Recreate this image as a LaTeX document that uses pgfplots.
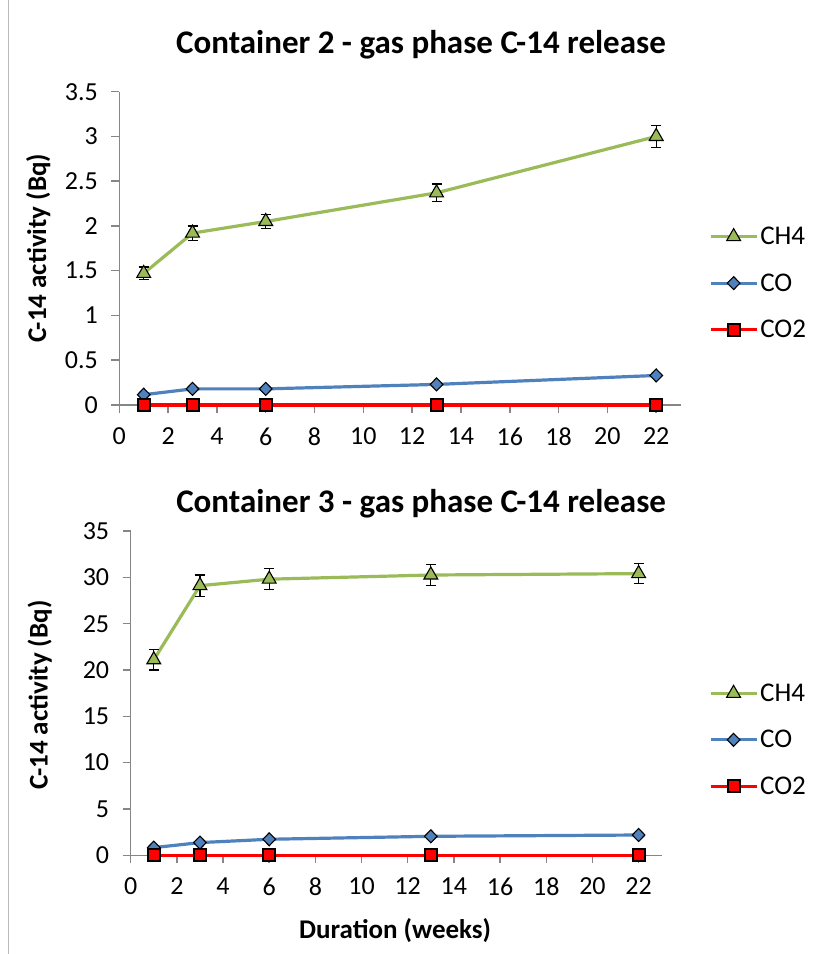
\documentclass[border=0pt]{standalone}
\usepackage{fontspec}
\setmainfont{Carlito}
\usepackage{pgfplots}
\usepackage{pgfplotstable}
\pgfplotsset{compat=1.18}
\definecolor{ch4green}{RGB}{155,187,89}
\definecolor{coblue}{RGB}{79,129,189}
\definecolor{axgray}{RGB}{134,134,134}

% container 2
\pgfplotstableread{
x  y     e
1  1.47  0.07
3  1.92  0.08
6  2.05  0.08
13 2.37  0.10
22 3.00  0.12
}\chtwo
\pgfplotstableread{
x  y
1  0.115
3  0.18
6  0.18
13 0.23
22 0.33
}\cotwo
\pgfplotstableread{
x  y
1  0
3  0
6  0
13 0
22 0
}\cotwotwo
% container 3
\pgfplotstableread{
x  y      e
1  21.1   1.10
3  29.1   1.15
6  29.8   1.15
13 30.25  1.15
22 30.4   1.10
}\chthree
\pgfplotstableread{
x  y
1  0.83
3  1.37
6  1.73
13 2.05
22 2.19
}\cothree
\pgfplotstableread{
x  y
1  0
3  0
6  0
13 0
22 0
}\cotwothree

\pgfplotsset{
    c14/.style={
        scale only axis,
        clip=false,
        xmin=0, xmax=23,
        xtick={0,2,...,22},
        axis lines*=left,
        axis line style={draw=axgray, line width=1.5pt},
        tick style={draw=axgray, line width=1.5pt},
        tick align=outside,
        major tick length=8pt,
        /pgf/number format/assume math mode=true,
        ticklabel style={font=\fontsize{26}{30}\selectfont},
        xticklabel style={yshift=-11pt},
        yticklabel style={xshift=-10pt},
        title style={font=\bfseries\fontsize{33}{38}\selectfont, anchor=center},
        label style={font=\bfseries\fontsize{27}{32}\selectfont},
        legend style={draw=none, fill=none, anchor=west,
            font=\fontsize{27}{32}\selectfont, row sep=23.5pt,
            /tikz/every even column/.append style={column sep=2pt}},
        legend cell align=left,
        legend image code/.code={
            \draw[mark repeat=2, mark phase=2, ##1] plot coordinates {(0pt,0pt) (23pt,0pt) (46pt,0pt)};
        },
    },
    ch4/.style={color=ch4green, line width=3.2pt,
        mark=triangle*, mark size=8pt,
        mark options={fill=ch4green, draw=black, line width=1.1pt}},
    co/.style={color=coblue, line width=3.2pt,
        mark=diamond*, mark size=6.5pt,
        mark options={fill=coblue, draw=black, line width=1.1pt, xscale=1.3}},
    cotwo/.style={color=red, line width=3.2pt,
        mark=square*, mark size=6pt,
        mark options={fill=red, draw=black, line width=2pt}},
    ebar/.style={error bars/.cd, y dir=both, y explicit,
        error bar style={black, line width=1.3pt},
        error mark options={rotate=90, black, mark size=5pt, line width=1.3pt}},
}

\begin{document}
\begin{tikzpicture}
\path[use as bounding box] (0pt,0pt) rectangle (826pt,954pt);
\draw[gray!55, line width=0.8pt] (8pt,0pt) -- (8pt,954pt);

\begin{axis}[c14,
    at={(119.3pt,549pt)}, anchor=south west,
    width=561.3pt, height=313.3pt,
    ymin=0, ymax=3.5, ytick={0,0.5,...,3.5},
    title={Container 2 - gas phase C-14 release},
    title style={at={(0.5375,1)}, yshift=41pt},
    ylabel={C-14 activity (Bq)},
    ylabel style={at={(-0.1443,0.5)}, anchor=center},
    legend style={at={(1.045,0.389)}},
]
\addplot[ch4, ebar] table[x=x, y=y, y error=e] {\chtwo};
\addplot[co] table[x=x, y=y] {\cotwo};
\addplot[cotwo] table[x=x, y=y] {\cotwotwo};
\legend{CH4, CO, CO2}
\end{axis}

\begin{axis}[c14,
    at={(130.7pt,98.7pt)}, anchor=south west,
    width=531pt, height=324.3pt,
    ymin=0, ymax=35, ytick={0,5,...,35},
    title={Container 3 - gas phase C-14 release},
    title style={at={(0.547,1)}, yshift=21pt},
    ylabel={C-14 activity (Bq)},
    ylabel style={at={(-0.1714,0.494)}, anchor=center},
    xlabel={Duration (weeks)},
    xlabel style={at={(0.498,0)}, anchor=center, yshift=-75pt},
    legend style={at={(1.083,0.356)}},
]
\addplot[ch4, ebar] table[x=x, y=y, y error=e] {\chthree};
\addplot[co] table[x=x, y=y] {\cothree};
\addplot[cotwo] table[x=x, y=y] {\cotwothree};
\legend{CH4, CO, CO2}
\end{axis}
\end{tikzpicture}
\end{document}
